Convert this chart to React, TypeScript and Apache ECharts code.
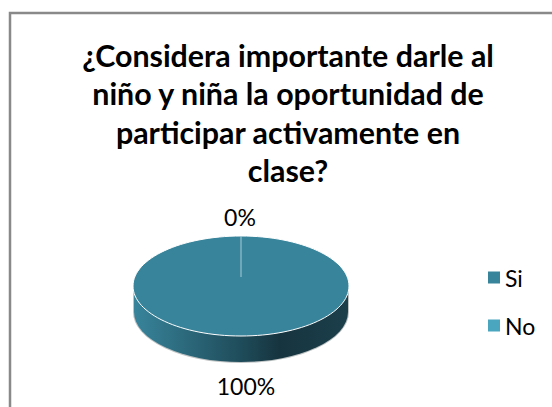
import React, { useEffect, useRef } from "react";
import * as echarts from "echarts";

const titleLines = [
  "¿Considera importante darle al",
  "niño y niña la oportunidad de",
  "participar activamente en",
  "clase?",
];
const categories = ["Si", "No"];
const values = [100, 0];
const colors = ["#38849B", "#4AA5BF"];

const CX = 241;
const CY = 286;
const RX = 108;
const RY = 50;
const DEPTH = 26;

const total = values.reduce((a, b) => a + b, 0);

function ellipsePoint(a: number) {
  return [CX + RX * Math.sin(a), CY - RY * Math.cos(a)];
}

export default function App() {
  const ref = useRef<HTMLDivElement>(null);
  useEffect(() => {
    const chart = echarts.init(ref.current!, null, { renderer: "svg" });

    const wedge = (idx: number) => (params: any, api: any) => {
      const before = values.slice(0, idx).reduce((a, b) => a + b, 0);
      const v = api.value(0) as number;
      const start = (before / total) * Math.PI * 2;
      const children: any[] = [];
      if (v >= total) {
        const d = (inset: number) =>
          `M${CX - RX + inset} ${CY + 4}L${CX - RX + inset} ${CY + DEPTH}A${RX - inset} ${RY} 0 0 0 ${CX + RX - inset} ${CY + DEPTH}L${CX + RX - inset} ${CY + 4}Z`;
        children.push({
          type: "path",
          shape: {
            pathData: d(1),
            x: CX - RX, y: CY + 4, width: RX * 2, height: RY + DEPTH - 4,
          },
          style: { fill: "none", stroke: "#BFC3C4", lineWidth: 2 },
        });
        children.push({
          type: "path",
          shape: {
            pathData: d(1),
            x: CX - RX + 1, y: CY + 4, width: RX * 2 - 2, height: RY + DEPTH - 4,
          },
          style: {
            fill: new echarts.graphic.LinearGradient(0, 0, 1, 0, [
              { offset: 0, color: "#38849B" },
              { offset: 0.5, color: "#1F4C5A" },
              { offset: 0.68, color: "#16343F" },
              { offset: 1, color: "#1B3F4B" },
            ]),
          },
        });
        children.push({
          type: "ellipse",
          shape: { cx: CX, cy: CY, rx: RX, ry: RY },
          style: { fill: colors[idx], stroke: "#FFFFFF", lineWidth: 1 },
        });
      } else {
        const [x1, y1] = ellipsePoint(start);
        children.push({
          type: "line",
          shape: { x1: CX, y1: CY - 9, x2: x1, y2: y1 },
          style: { stroke: "#A9CCD7", lineWidth: 1 },
        });
      }
      return { type: "group", children };
    };

    const labelFor = (idx: number, x: number, y: number) => ({
      type: "text",
      silent: true,
      style: {
        text: `${Math.round((values[idx] / total) * 100)}%`,
        x, y,
        align: "center",
        verticalAlign: "middle",
        font: "23px Lato",
        fill: "#000000",
      },
    });

    chart.setOption({
      animation: false,
      backgroundColor: "#FFFFFF",
      title: {
        text: titleLines.join("\n"),
        left: 283,
        top: 31,
        textAlign: "center",
        textStyle: {
          fontFamily: "Lato",
          fontSize: 30.4,
          fontWeight: "bold",
          color: "#000000",
          lineHeight: 38.3,
        },
      },
      legend: {
        orient: "vertical",
        left: 483,
        top: 261,
        itemWidth: 12,
        itemHeight: 12,
        itemGap: 25,
        icon: "rect",
        data: categories,
        textStyle: { fontFamily: "Lato", fontSize: 23, color: "#000000" },
      },
      xAxis: { show: false, type: "value" },
      yAxis: { show: false, type: "value" },
      grid: { left: 0, right: 0, top: 0, bottom: 0 },
      graphic: [
        {
          type: "rect",
          shape: { x: 10, y: 13, width: 560, height: 420 },
          style: { fill: "none", stroke: "#898989", lineWidth: 2.5 },
        },
        { ...labelFor(1, 240, 217) },
        { ...labelFor(0, 246, 386) },
      ],
      series: categories.map((name, i) => ({
        type: "custom",
        name,
        coordinateSystem: "none",
        itemStyle: { color: colors[i] },
        encode: { value: 0 },
        data: [[values[i]]],
        renderItem: wedge(i),
      })),
    });
    return () => chart.dispose();
  }, []);
  return <div ref={ref} style={{ position: "fixed", left: 0, top: 0, width: 552, height: 407 }} />;
}
